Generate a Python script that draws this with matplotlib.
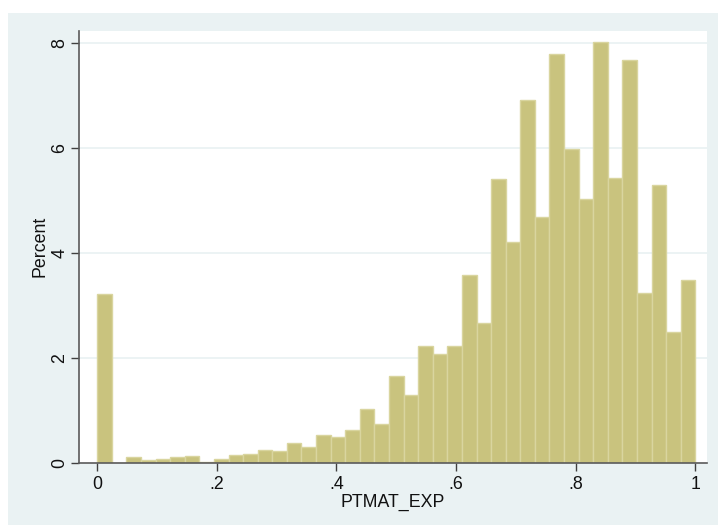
import numpy as np
import matplotlib.pyplot as plt
from matplotlib.patches import Rectangle

plt.rcParams['font.family'] = ['Liberation Sans', 'DejaVu Sans']

# percent of observations in each of 41 equal-width bins over [0, 1]
n_bins = 41
percent = [3.22, 0.00, 0.10, 0.06, 0.08, 0.10, 0.12, 0.02, 0.08, 0.14,
           0.16, 0.25, 0.23, 0.37, 0.29, 0.53, 0.49, 0.63, 1.03, 0.74,
           1.66, 1.30, 2.23, 2.08, 2.23, 3.58, 2.67, 5.41, 4.21, 6.92,
           4.69, 7.80, 5.99, 5.03, 8.02, 5.43, 7.68, 3.24, 5.30, 2.50,
           3.49]
x_ticks = [0, 0.2, 0.4, 0.6, 0.8, 1]
x_ticklabels = ['0', '.2', '.4', '.6', '.8', '1']
y_ticks = [0, 2, 4, 6, 8]

bin_edges = np.linspace(0, 1, n_bins + 1)
bin_width = bin_edges[1] - bin_edges[0]

bg = '#eaf2f3'
fig = plt.figure(figsize=(7.18, 5.25), dpi=100)
fig.patches.append(Rectangle((8 / 718, 0), 1, 512 / 525, transform=fig.transFigure,
                             facecolor=bg, edgecolor='none', zorder=-10))

ax = fig.add_axes([79 / 718, 62.3 / 525, 628 / 718, 431.7 / 525])
ax.set_facecolor('white')

ax.bar(bin_edges[:-1], percent, width=bin_width, align='edge',
       color='#c9c37e', edgecolor='#d9d59f', linewidth=1.0, zorder=2)

for y in y_ticks[1:]:
    ax.axhline(y, color=bg, linewidth=1.3, zorder=1)

ax.set_xlim(-0.0306, 1.0196)
ax.set_ylim(0, 8.234)

ax.set_xticks(x_ticks)
ax.set_xticklabels(x_ticklabels)
ax.set_yticks(y_ticks)
ax.set_yticklabels([str(v) for v in y_ticks], rotation=90, va='center')

ax.tick_params(axis='both', direction='out', length=5.5, width=1, color='#404040',
               labelsize=12.8, labelcolor='#111111')
ax.tick_params(axis='x', pad=4)
ax.tick_params(axis='y', pad=2)

for side in ['top', 'right']:
    ax.spines[side].set_visible(False)
for side in ['left', 'bottom']:
    ax.spines[side].set_color('#5a5a5a')
    ax.spines[side].set_linewidth(1.2)

ax.set_xlabel('PTMAT_EXP', fontsize=12.8, color='#111111', labelpad=1)
ax.set_ylabel('Percent', fontsize=12.8, color='#111111', labelpad=2.5)

fig.savefig('out.png', dpi=100)
